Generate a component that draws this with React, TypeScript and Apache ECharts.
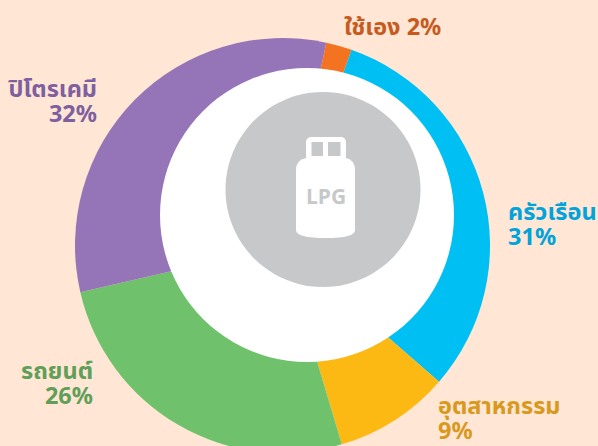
import React, { useEffect, useRef } from "react";
import * as echarts from "echarts";

const categories = ["ครัวเรือน", "อุตสาหกรรม", "รถยนต์", "ปิโตรเคมี", "ใช้เอง"];
const values = [31, 9, 26, 32, 2];
const sliceColors = ["#00BFF3", "#FDB913", "#6FC26B", "#9575B7", "#F47320"];
const labelColors = ["#00A3DA", "#D9991C", "#5F9F58", "#7E5F9F", "#C75B1E"];
const labelSpots: [number, number, "left" | "right"][] = [
  [508, 223, "left"],
  [438, 417, "left"],
  [93, 382, "right"],
  [97, 100, "right"],
  [344, 26, "left"],
];
const singleLine = ["ใช้เอง"];

echarts.graphic.registerShape(
  "lpgBody",
  echarts.graphic.extendPath(
    "M306 158 L346 158 Q355 160 355 170 L355 230 Q355 238 326 238 Q296 238 296 230 L296 170 Q296 160 306 158 Z",
    {}
  ) as any
);

export default function App() {
  const ref = useRef<HTMLDivElement>(null);
  useEffect(() => {
    document.body.style.margin = "0";
    const chart = echarts.init(ref.current!, undefined, { renderer: "svg" });
    chart.setOption({
      animation: false,
      backgroundColor: "#FFE6D5",
      series: [
        {
          type: "pie",
          center: [282.5, 245.5],
          radius: [0, 207.5],
          startAngle: 70.6,
          clockwise: true,
          silent: true,
          itemStyle: { borderWidth: 0 },
          labelLine: { show: false },
          label: {
            show: true,
            overflow: "none",
            formatter: (p: any) =>
              singleLine.includes(p.name) ? `${p.name} ${p.value}%` : `${p.name}\n${p.value}%`,
            fontFamily: "'Noto Sans', 'Noto Sans Thai', 'Open Sans', sans-serif",
            fontWeight: "bold",
            fontSize: 23.5,
            lineHeight: 25,
          },
          labelLayout: (p: any) => {
            const s = labelSpots[p.dataIndex];
            return { x: s[0], y: s[1], align: s[2], verticalAlign: "middle", hideOverlap: false };
          },
          data: categories.map((name, i) => ({
            name,
            value: values[i],
            itemStyle: { color: sliceColors[i] },
            label: { color: labelColors[i] },
          })),
        },
      ],
      graphic: [
        { type: "circle", z: 10, shape: { cx: 307, cy: 215, r: 147 }, style: { fill: "#FFFFFF" } },
        { type: "circle", z: 11, shape: { cx: 323, cy: 189.5, r: 97.5 }, style: { fill: "#C7C8CA" } },
        { type: "rect", z: 12, shape: { x: 306, y: 137, width: 40, height: 24, r: 5 }, style: { fill: "#FFFFFF" } },
        { type: "rect", z: 13, shape: { x: 311.5, y: 142, width: 11.5, height: 14 }, style: { fill: "#C7C8CA" } },
        { type: "rect", z: 13, shape: { x: 328, y: 142, width: 12.5, height: 14 }, style: { fill: "#C7C8CA" } },
        { type: "lpgBody", z: 12, style: { fill: "#FFFFFF" } },
        {
          type: "text",
          z: 13,
          x: 326,
          y: 196,
          style: {
            text: "LPG",
            fill: "#C7C8CA",
            fontFamily: "'Open Sans', sans-serif",
            fontWeight: 700,
            fontSize: 21,
            align: "center",
            verticalAlign: "middle",
          },
        },
      ],
    });
    return () => chart.dispose();
  }, []);
  return <div ref={ref} style={{ width: 598, height: 446 }} />;
}
